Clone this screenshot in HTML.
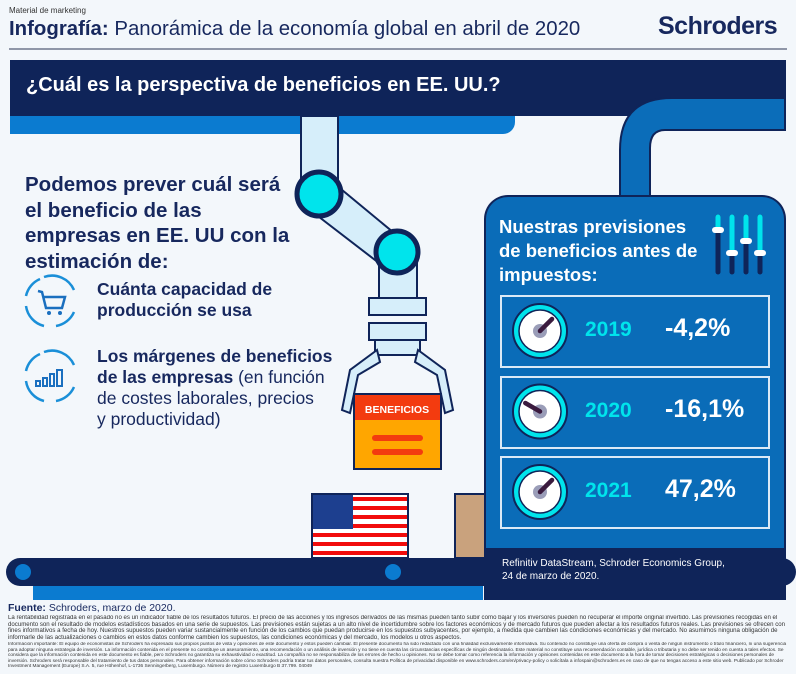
<!DOCTYPE html>
<html><head><meta charset="utf-8"><style>
*{margin:0;padding:0;box-sizing:border-box}
body{width:796px;height:674px;background:#f3f7fb;font-family:"Liberation Sans",sans-serif;position:relative;overflow:hidden;color:#17285e}
.a{position:absolute}
.ft{font-size:6.1px;line-height:6.6px;color:#333;white-space:nowrap;overflow:hidden;width:780px}
</style></head><body>
<div class="a" style="left:9px;top:6px;font-size:8px;color:#333">Material de marketing</div>
<div class="a" style="left:9px;top:18px;font-size:20.4px;color:#17285e"><b>Infografía:</b> Panorámica de la economía global en abril de 2020</div>
<div class="a" style="left:658px;top:12px;font-size:25px;font-weight:bold;color:#17285e;letter-spacing:-0.5px">Schroders</div>
<div class="a" style="left:9px;top:48px;width:778px;height:2px;background:#8f96a8"></div>

<div class="a" style="left:10px;top:110px;width:505px;height:24px;background:#0b7bd0;border-radius:0 0 12px 0"></div>
<div class="a" style="left:10px;top:60px;width:776px;height:56px;background:#0f2459"></div>
<div class="a" style="left:26px;top:74px;font-size:20px;font-weight:bold;color:#fff">¿Cuál es la perspectiva de beneficios en EE. UU.?</div>

<svg class="a" style="left:0;top:0" width="796" height="674">
 <path d="M620 200 V150 Q620 98 672 98 H785 V130 H665 Q650 130 650 148 V200 Z" fill="#0b6db9" stroke="#0f2459" stroke-width="2"/>
 <rect x="301" y="116" width="37" height="80" fill="#d6eefa" stroke="#0f2459" stroke-width="2"/>
 <path d="M310 210 L388 270 L405 242 L330 180 Z" fill="#d6eefa" stroke="#0f2459" stroke-width="2"/>
 <rect x="379" y="255" width="38" height="55" fill="#d6eefa" stroke="#0f2459" stroke-width="2"/>
 <circle cx="319" cy="194" r="22" fill="#00e4ec" stroke="#0f2459" stroke-width="5"/>
 <circle cx="397" cy="252" r="21" fill="#00e4ec" stroke="#0f2459" stroke-width="5"/>
 <rect x="369" y="298" width="57" height="17" fill="#d6eefa" stroke="#0f2459" stroke-width="2"/>
 <rect x="369" y="323" width="57" height="17" fill="#d6eefa" stroke="#0f2459" stroke-width="2"/>
 <rect x="375" y="340" width="45" height="15" fill="#d6eefa" stroke="#0f2459" stroke-width="2"/>
 <path d="M377 350 L350 370 L342 410 L350 413 L358 375 L380 362 Z" fill="#d6eefa" stroke="#0f2459" stroke-width="2"/>
 <path d="M418 350 L445 370 L453 410 L445 413 L437 375 L415 362 Z" fill="#d6eefa" stroke="#0f2459" stroke-width="2"/>
 <rect x="354" y="394" width="87" height="75" fill="#ffa600" stroke="#0f2459" stroke-width="2"/>
 <rect x="355" y="395" width="85" height="25" fill="#f33b0f"/>
 <text x="397" y="413" text-anchor="middle" font-family="Liberation Sans" font-weight="bold" font-size="10.5" fill="#fff">BENEFICIOS</text>
 <rect x="372" y="435" width="51" height="6" rx="3" fill="#f33b0f"/><rect x="372" y="449" width="51" height="6" rx="3" fill="#f33b0f"/>
 <rect x="312" y="494" width="96" height="64" fill="#fff" stroke="#0f2459" stroke-width="2"/>
 <g fill="#f20c0c">
  <rect x="313" y="497" width="94" height="4"/><rect x="313" y="506" width="94" height="4"/><rect x="313" y="515" width="94" height="4"/><rect x="313" y="524" width="94" height="4"/><rect x="313" y="533" width="94" height="4"/><rect x="313" y="542" width="94" height="4"/><rect x="313" y="551" width="94" height="4"/>
 </g>
 <rect x="313" y="495" width="40" height="34" fill="#1d3f8f"/>
 <rect x="455" y="494" width="30" height="64" fill="#c9a27d" stroke="#0f2459" stroke-width="2"/>
 <rect x="33" y="584" width="450" height="16" fill="#0b7bd0"/>
 <rect x="6" y="558" width="790" height="28" rx="14" fill="#0f2459"/>
 <circle cx="23" cy="572" r="8" fill="#0b7bd0"/><circle cx="393" cy="572" r="8" fill="#0b7bd0"/>
 <g fill="none" stroke="#1a8fd8" stroke-width="2.5">
  <path d="M44 277 A24 24 0 0 1 74 290"/><path d="M74 312 A24 24 0 0 1 56 326"/><path d="M44 326 A24 24 0 0 1 26 306"/><path d="M26 296 A24 24 0 0 1 40 279"/>
  <path d="M44 352 A24 24 0 0 1 74 365"/><path d="M74 387 A24 24 0 0 1 56 401"/><path d="M44 401 A24 24 0 0 1 26 381"/><path d="M26 371 A24 24 0 0 1 40 354"/>
  <path d="M38 291 L42 292 L46 308 L62 308 L65 297 L44 297" stroke="#1a6fbf"/>
 </g>
 <circle cx="49" cy="313" r="2" fill="#1a6fbf"/><circle cx="60" cy="313" r="2" fill="#1a6fbf"/>
 <g fill="none" stroke="#1a6fbf" stroke-width="2"><rect x="36" y="381" width="4" height="5"/><rect x="43" y="378" width="4" height="8"/><rect x="50" y="374" width="4" height="12"/><rect x="57" y="370" width="5" height="16"/></g>
</svg>

<div class="a" style="left:25px;top:172px;font-size:20.5px;font-weight:bold;line-height:25.5px;color:#17285e">Podemos prever cuál será<br>el beneficio de las<br>empresas en EE. UU con la<br>estimación de:</div>
<div class="a" style="left:97px;top:279px;font-size:17.5px;font-weight:bold;line-height:21px;color:#17285e">Cuánta capacidad de<br>producción se usa</div>
<div class="a" style="left:97px;top:346px;font-size:17.5px;line-height:21px;color:#17285e;width:270px"><b>Los márgenes de beneficios<br>de las empresas</b> (en función<br>de costes laborales, precios<br>y productividad)</div>

<div class="a" style="left:484px;top:195px;width:302px;height:405px;background:#0a6cb8;border:2px solid #0f2459;border-bottom:none;border-radius:24px 24px 0 0"></div>
<div class="a" style="left:484px;top:548px;width:302px;height:52px;background:#0f2459"></div>
<div class="a" style="left:499px;top:215px;font-size:18.5px;font-weight:bold;line-height:24px;color:#fff">Nuestras previsiones<br>de beneficios antes de<br>impuestos:</div>
<svg class="a" style="left:710px;top:212px" width="60" height="70">
 <g stroke-linecap="round" stroke-width="5"><line x1="8" y1="5" x2="8" y2="60" stroke="#0f2459"/><line x1="22" y1="5" x2="22" y2="60" stroke="#0f2459"/><line x1="36" y1="5" x2="36" y2="60" stroke="#0f2459"/><line x1="50" y1="5" x2="50" y2="60" stroke="#0f2459"/>
 <line x1="8" y1="5" x2="8" y2="18" stroke="#00e4ec"/><line x1="22" y1="5" x2="22" y2="40" stroke="#00e4ec"/><line x1="36" y1="5" x2="36" y2="28" stroke="#00e4ec"/><line x1="50" y1="5" x2="50" y2="40" stroke="#00e4ec"/></g>
 <g fill="#fff"><rect x="2" y="15" width="12" height="6" rx="3"/><rect x="16" y="38" width="12" height="6" rx="3"/><rect x="30" y="26" width="12" height="6" rx="3"/><rect x="44" y="38" width="12" height="6" rx="3"/></g>
</svg>
<div id="rows"></div>
<div class="a" style="left:502px;top:557px;font-size:10px;line-height:13px;color:#fff">Refinitiv DataStream, Schroder Economics Group,<br>24 de marzo de 2020.</div>

<div class="a" style="left:8px;top:602px;font-size:10.5px;color:#17285e"><b>Fuente:</b> Schroders, marzo de 2020.</div>
<div class="a ft" style="left:8px;top:615px">La rentabilidad registrada en el pasado no es un indicador fiable de los resultados futuros. El precio de las acciones y los ingresos derivados de las mismas pueden tanto subir como bajar y los inversores pueden no recuperar el importe original invertido. Las previsiones recogidas en el<br>documento son el resultado de modelos estadísticos basados en una serie de supuestos. Las previsiones están sujetas a un alto nivel de incertidumbre sobre los factores económicos y de mercado futuros que pueden afectar a los resultados futuros reales. Las previsiones se ofrecen con<br>fines informativos a fecha de hoy. Nuestros supuestos pueden variar sustancialmente en función de los cambios que puedan producirse en los supuestos subyacentes, por ejemplo, a medida que cambien las condiciones económicas y del mercado. No asumimos ninguna obligación de<br>informarle de las actualizaciones o cambios en estos datos conforme cambien los supuestos, las condiciones económicas y del mercado, los modelos u otros aspectos.</div>
<div class="a ft" style="left:8px;top:642px;font-size:4.75px;line-height:5.6px">Información importante: El equipo de economistas de Schroders ha expresado sus propios puntos de vista y opiniones de este documento y estos pueden cambiar. El presente documento ha sido redactado con una finalidad exclusivamente informativa. Su contenido no constituye una oferta de compra o venta de ningún instrumento o título financiero, ni una sugerencia<br>para adoptar ninguna estrategia de inversión. La información contenida en el presente no constituye un asesoramiento, una recomendación o un análisis de inversión y no tiene en cuenta las circunstancias específicas de ningún destinatario. Este material no constituye una recomendación contable, jurídica o tributaria y no debe ser tenido en cuenta a tales efectos. Se<br>considera que la información contenida en este documento es fiable, pero Schroders no garantiza su exhaustividad o exactitud. La compañía no se responsabiliza de los errores de hecho u opiniones. No se debe tomar como referencia la información y opiniones contenidas en este documento a la hora de tomar decisiones estratégicas o decisiones personales de<br>inversión. Schroders será responsable del tratamiento de tus datos personales. Para obtener información sobre cómo Schroders podría tratar tus datos personales, consulta nuestra Política de privacidad disponible en www.schroders.com/en/privacy-policy o solicítala a infospain@schroders.es en caso de que no tengas acceso a este sitio web. Publicado por Schroder<br>Investment Management (Europe) S.A. 5, rue Höhenhof, L-1736 Senningerberg, Luxemburgo. Número de registro Luxemburgo B 37.799. 04049</div>

<script>
const years=["2019","2020","2021"];
const values=[-4.2,-16.1,47.2];
const labels=["-4,2%","-16,1%","47,2%"];
const host=document.getElementById('rows');
const rowTop=r=>295+r*80.5;
const needleAngle=v=>v<-10?-60:45;
years.forEach((y,i)=>{
 const t=rowTop(i);
 const box=document.createElement('div');
 box.className='a';
 
 
 box.style.cssText=`left:500px;top:${t}px;width:270px;height:73px;border:2px solid #dbe9f6`;
 host.appendChild(box);
 const a=needleAngle(values[i])*Math.PI/180;
 const cx=540,cy=t+36;
 const ex=cx+17*Math.sin(a),ey=cy-17*Math.cos(a);
 const g=document.createElementNS('http://www.w3.org/2000/svg','svg');
 g.setAttribute('class','a');
 
 
 g.setAttribute('width','796');g.setAttribute('height','674');
 g.style.left='0';g.style.top='0';
 g.innerHTML=`<circle cx="${cx}" cy="${cy}" r="27" fill="#00e4ec" stroke="#0f2459" stroke-width="2"/><circle cx="${cx}" cy="${cy}" r="21" fill="#fff" stroke="#0f2459" stroke-width="1.5"/><circle cx="${cx}" cy="${cy}" r="7" fill="#9a9db8"/><line x1="${cx}" y1="${cy}" x2="${ex}" y2="${ey}" stroke="#3a1a3e" stroke-width="4.5" stroke-linecap="round"/>`;
 host.appendChild(g);
 const yl=document.createElement('div');
 yl.className='a';
 
 
 yl.style.cssText=`left:585px;top:${t+23}px;font-size:21px;font-weight:bold;color:#00e4ec`;
 yl.textContent=y;host.appendChild(yl);
 const vl=document.createElement('div');
 vl.className='a';
 
 
 vl.style.cssText=`left:665px;top:${t+19}px;font-size:25px;font-weight:bold;color:#fff`;
 vl.textContent=labels[i];host.appendChild(vl);
});
</script>
</body></html>
